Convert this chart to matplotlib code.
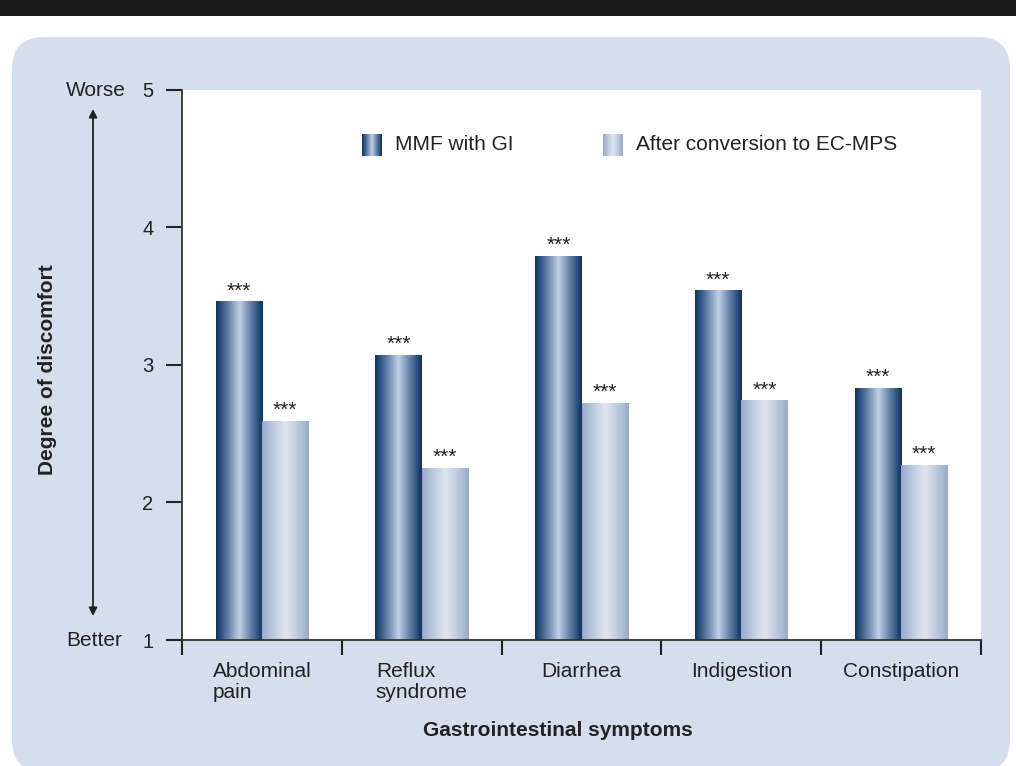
import numpy as np
import matplotlib
matplotlib.use("Agg")
import matplotlib.pyplot as plt
from matplotlib.colors import LinearSegmentedColormap
from matplotlib.patches import FancyBboxPatch, Rectangle
from matplotlib.transforms import IdentityTransform

plt.rcParams['font.family'] = ['Liberation Sans', 'DejaVu Sans']

categories = ["Abdominal\npain", "Reflux\nsyndrome", "Diarrhea", "Indigestion", "Constipation"]
mmf_gi = [3.46, 3.07, 3.79, 3.54, 2.83]
ec_mps = [2.59, 2.25, 2.72, 2.74, 2.27]
series_names = ["MMF with GI", "After conversion to EC-MPS"]
stars = "***"

W, H = 1016, 766
fig = plt.figure(figsize=(W / 100, H / 100), dpi=100, facecolor="white")

# dark header strip and rounded light-blue panel
fig.patches.append(Rectangle((0, H - 16), W, 16, transform=IdentityTransform(),
                             facecolor="#1b1b1b", edgecolor="none", zorder=-10))
fig.patches.append(FancyBboxPatch((12, -6), 998, H - 37 + 6,
                                  boxstyle="round,pad=0,rounding_size=32",
                                  transform=IdentityTransform(),
                                  facecolor="#d4deec", edgecolor="none", zorder=-10))

ax = fig.add_axes([182 / W, 1 - 640 / H, (981 - 182) / W, (640 - 90) / H])
ax.set_facecolor("white")

dark_cmap = LinearSegmentedColormap.from_list("dark", ["#c3d0e3", "#5f7ea6", "#0b3563"])
light_cmap = LinearSegmentedColormap.from_list("light", ["#e0e6f0", "#bfcbe0", "#98abcb"])
profile = np.abs(np.linspace(-1, 1, 64))[None, :]

bw = 0.29
x = np.arange(len(categories)) + 0.5


def grad_bar(x0, width, y0, y1, cmap):
    ax.imshow(profile, cmap=cmap, vmin=0, vmax=1, aspect="auto",
              extent=(x0, x0 + width, y0, y1), interpolation="bicubic", zorder=2)


for i in range(len(categories)):
    grad_bar(x[i] - bw, bw, 1, mmf_gi[i], dark_cmap)
    grad_bar(x[i], bw, 1, ec_mps[i], light_cmap)
    for xc, v in ((x[i] - bw / 2, mmf_gi[i]), (x[i] + bw / 2, ec_mps[i])):
        ax.annotate(stars, (xc, v), xytext=(0, 1), textcoords="offset points",
                    ha="center", va="bottom", fontsize=15, color="#222222")

# legend
grad_bar(1.126, 0.119, 4.52, 4.673, dark_cmap)
ax.text(1.333, 4.6, series_names[0], va="center", ha="left", fontsize=15, color="#222222")
grad_bar(2.635, 0.122, 4.52, 4.673, light_cmap)
ax.text(2.841, 4.6, series_names[1], va="center", ha="left", fontsize=15, color="#222222")

ax.set_xlim(0, 5)
ax.set_ylim(1, 5)
for s in ("top", "right"):
    ax.spines[s].set_visible(False)
for s in ("left", "bottom"):
    ax.spines[s].set_color("#333333")
    ax.spines[s].set_linewidth(1.3)

ax.set_yticks([1, 2, 3, 4, 5])
ax.tick_params(axis="y", length=11.5, width=1.5, color="#222222", pad=9,
               labelsize=14.5, labelcolor="#222222")
ax.set_xticks(np.arange(0, 6))
ax.set_xticklabels([])
ax.tick_params(axis="x", which="major", length=11, width=1.5, color="#222222")
ax.set_xticks(x, minor=True)
ax.set_xticklabels(categories, minor=True, fontsize=15, color="#222222",
                   ha="center", va="top", multialignment="left", linespacing=1.1)
ax.tick_params(axis="x", which="minor", length=0, pad=16)

fig.text(48 / W, 1 - 370 / H, "Degree of discomfort", rotation=90, ha="center",
         va="center", fontsize=15, fontweight="bold", color="#222222")
fig.text(558 / W, 1 - 731 / H, "Gastrointestinal symptoms", ha="center",
         va="center", fontsize=15, fontweight="bold", color="#222222")
fig.text(96 / W, 1 - 91 / H, "Worse", ha="center", va="center", fontsize=15, color="#222222")
fig.text(94 / W, 1 - 640 / H, "Better", ha="center", va="center", fontsize=15, color="#222222")
ax.annotate("", xy=(93 / W, 1 - 109 / H), xytext=(93 / W, 1 - 616 / H),
            xycoords="figure fraction", textcoords="figure fraction",
            arrowprops=dict(arrowstyle="<|-|>", color="#222222", lw=1.3,
                            mutation_scale=12, shrinkA=0, shrinkB=0))

fig.savefig("out.png", dpi=100, facecolor="white")
